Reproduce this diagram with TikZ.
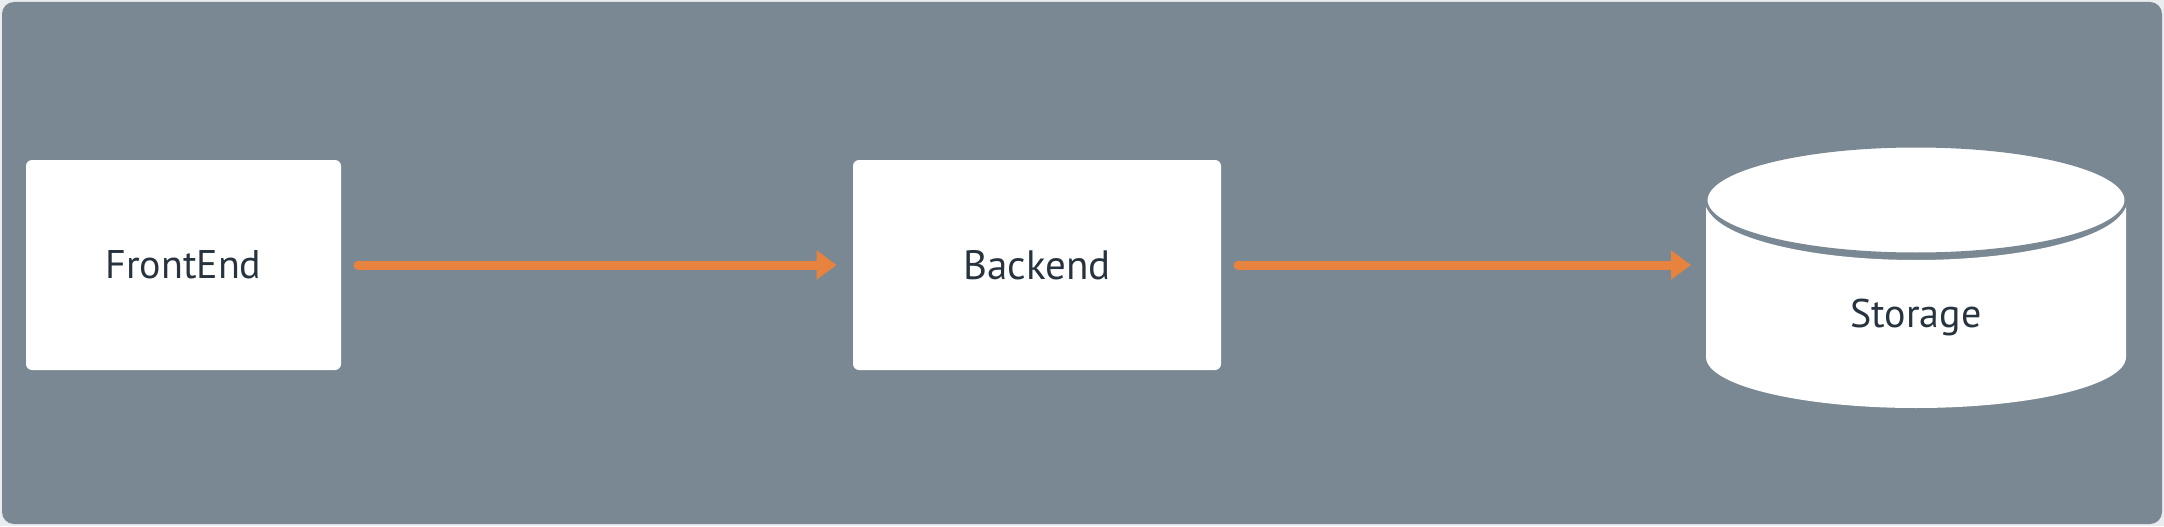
\documentclass[tikz,border=0pt]{standalone}
\usepackage{fontspec}
\setmainfont{PT Sans}
\usetikzlibrary{arrows.meta}
\definecolor{pagebg}{HTML}{E9EDF0}
\definecolor{canvas}{HTML}{7A8893}
\definecolor{inkdark}{HTML}{27343F}
\definecolor{flow}{HTML}{E8833F}
\tikzset{
  card/.style={fill=white, draw=none, rounded corners=3pt, inner sep=0pt,
    text=inkdark, font=\fontsize{20}{23}\selectfont},
  flowarrow/.style={draw=flow, line width=4.5pt, line cap=round,
    -{Triangle[length=10pt,width=14pt]}},
  dblid/.style={fill=white, draw=canvas, line width=1.5pt},
}
\begin{document}
\begin{tikzpicture}[x=0.5pt,y=0.5pt]
\useasboundingbox (0,0) rectangle (2164,526);
\fill[pagebg] (0,0) rectangle (2164,526);
\fill[canvas, rounded corners=6pt] (2,2) rectangle (2162,524);
% boxes
\node[card, minimum width=157.5pt, minimum height=105pt] (fe) at (183.5,261) {FrontEnd};
\node[card, minimum width=184pt, minimum height=105pt, font=\fontsize{20.5}{23}\selectfont] (be) at (1037,261) {Backend};
% cylinder
\fill[white] (1706,324) -- (1706,169) arc[start angle=180, end angle=360, x radius=105pt, y radius=25.5pt]
  -- (2126,324) arc[start angle=0, end angle=-180, x radius=105pt, y radius=29pt] -- cycle;
\filldraw[dblid] (1916,326) ellipse[x radius=105pt, y radius=27pt];
\node[text=inkdark, font=\fontsize{20}{23}\selectfont] (st) at (1916,209) {Storage};
\coordinate (cylw) at (1706,261);
% arrows
\draw[flowarrow] ([xshift=8.25pt]fe.east) -- ([xshift=-8pt]be.west);
\draw[flowarrow] ([xshift=8.25pt]be.east) -- ([xshift=-7.5pt]cylw);
\end{tikzpicture}
\end{document}
